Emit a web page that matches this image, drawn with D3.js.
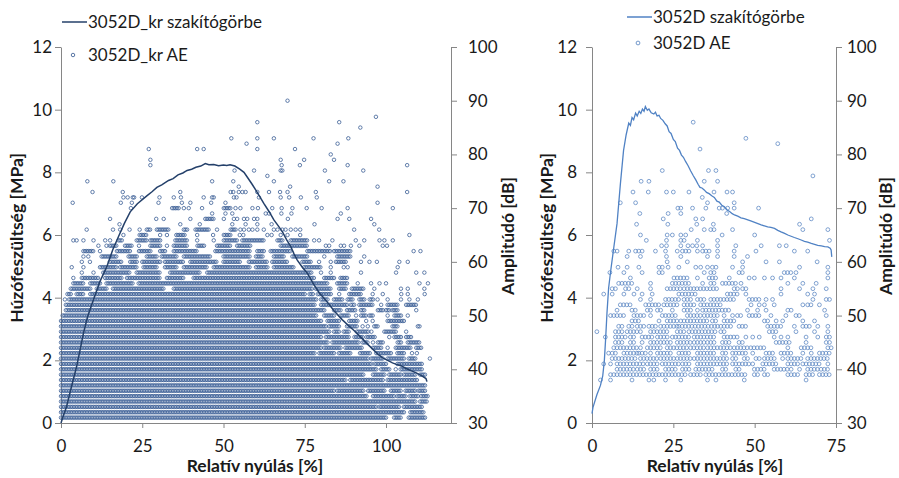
<!DOCTYPE html>
<html><head><meta charset="utf-8">
<script src="https://cdn.jsdelivr.net/npm/d3@7"></script>
<style>body{margin:0;background:#fff} svg text{font-family:Lato,"Open Sans",sans-serif;fill:#1a1a1a}</style>
</head><body><svg id="c" width="899" height="478"></svg>
<script>
// ---------- data ----------
const stressTicks=[0,2,4,6,8,10,12];
const ampTicks=[30,40,50,60,70,80,90,100];
const leftXTicks=[0,25,50,75,100];
const rightXTicks=[0,25,50,75];
const leftNames=["3052D_kr szakítógörbe","3052D_kr AE"];
const rightNames=["3052D szakítógörbe","3052D AE"];
const xTitle="Relatív nyúlás [%]";
const yTitle="Húzófeszültség [MPa]";
const y2Title="Amplitúdó [dB]";

// tensile curves [strain %, stress MPa]
const leftCurve=[[0,0],[0.7,0.22],[1.7,0.52],[3.2,1.15],[4.8,1.8],[6.0,2.4],[6.9,2.86],[8.2,3.4],[10.2,4.0],[12,4.52],[14.1,4.99],[15.9,5.52],[17.7,5.95],[19.5,6.37],[21.3,6.74],[23.5,7.0],[26.4,7.25],[28,7.38],[29.5,7.52],[31,7.6],[33.1,7.74],[34.5,7.8],[36,7.92],[37.5,7.98],[38.8,8.06],[40.2,8.1],[41.5,8.16],[43,8.2],[44.4,8.28],[45.5,8.24],[47,8.25],[48.5,8.21],[50,8.23],[51,8.22],[52,8.24],[53.5,8.2],[55,8.1],[56.3,8.0],[57.5,7.82],[58.8,7.62],[59.9,7.44],[61.2,7.22],[62.4,7.01],[64,6.75],[65.5,6.48],[66.8,6.3],[68.1,6.11],[69.4,5.85],[70.7,5.63],[71.7,5.4],[72.7,5.2],[74.2,4.98],[75.8,4.78],[77.9,4.4],[79.5,4.15],[80.8,4.0],[82,3.85],[84,3.58],[86.5,3.3],[89.2,3.04],[90.5,2.92],[91.8,2.78],[93,2.66],[94.4,2.51],[96,2.35],[97.5,2.2],[99,2.08],[100.5,2.0],[102,1.92],[103.2,1.87],[104.6,1.83],[106.2,1.74],[107.7,1.67],[109.3,1.6],[110.8,1.52],[112.3,1.42],[112.6,1.32]];
const rightCurve=[[0,0.3],[0.3,0.5],[1.5,0.9],[2.6,1.2],[3.3,1.5],[3.8,2.0],[4.2,2.7],[4.6,3.5],[5.1,4.3],[5.8,4.9],[6.7,5.6],[7.7,6.37],[8.7,7.6],[9.7,8.7],[10.5,9.2],[11.3,9.57],[11.8,9.5],[12.3,9.75],[12.8,9.68],[13.4,9.89],[13.9,9.8],[14.5,9.95],[15,9.88],[15.5,10.02],[16,9.95],[16.4,10.1],[17,9.98],[17.5,10.02],[18.2,9.9],[19,9.86],[19.5,9.92],[20,9.8],[20.6,9.82],[21.1,9.72],[21.8,9.66],[22.5,9.55],[23.1,9.48],[23.7,9.3],[24.3,9.24],[25,9.05],[25.6,8.98],[26.3,8.77],[26.9,8.7],[27.5,8.55],[28.1,8.48],[28.8,8.34],[29.5,8.22],[30.3,8.05],[31.1,7.9],[31.9,7.76],[32.6,7.62],[33.2,7.52],[33.8,7.5],[34.5,7.44],[35.2,7.36],[36,7.32],[36.8,7.25],[37.6,7.2],[38.4,7.08],[39.1,7.05],[39.9,6.95],[40.7,6.9],[41.5,6.8],[42.3,6.75],[43.1,6.68],[43.8,6.64],[44.8,6.6],[45.8,6.55],[46.8,6.52],[47.9,6.48],[49,6.44],[50,6.4],[51,6.36],[52,6.32],[53,6.29],[54,6.26],[55,6.24],[56.1,6.21],[57.1,6.15],[58.1,6.1],[59.2,6.05],[60.2,6.0],[61.2,5.96],[62.2,5.92],[63.3,5.88],[64.3,5.84],[65.3,5.8],[66.3,5.77],[67.4,5.73],[68.4,5.7],[69.4,5.67],[70.5,5.65],[71.5,5.63],[72.5,5.62],[73.2,5.58],[73.5,5.52],[73.7,5.3]];

// AE hits: "dB:strain positions" (a-b = contiguous run of markers)
const leftAE=[
"31:0-100,102.5-104.5,107-112","32:0-105.5,107.5-111.5","33:0-97,98-104,105.5-111","34:0-109,110.5-112.5",
"35:0-94,96-102.5,103.5-106,107.3-109.8,110.8-113","36:0-84,85-93,94.5-99.5,101.5-104.5,106-109,110-112","37:0-112",
"38:0-87.5,89-99,100.5-109.5","39:0-93,96-99.5,101-104.5,105.5-109,110.5-112","40:0-97,98.5-101,103,104.5-111",
"41:0-95.5,96.5-100,103.5-111","42:0-94.5,95.5-99,100.5-105.5,107-109,113.5",
"43:0-78,79.5-84,85.5-89,92-95,97-101.5,103.5-105.5,108,109.5","44:0-80,81-86,87.5-92.5,96-98.5,100.5,103-107.5,109.3-110.8",
"45:0-82,83.5-91.5,92.8-94.4,96,97.5-99,103.6-104.7,106.7-110.3","46:0-80,81.5-88.5,90.3-92.8,94-96.5,101,102.6-104.7,106.2-107.7",
"47:0-82.5,84-85.5,87-88.5,91-93,93.5-94.5,95.5,99.5-103,106.2","48:0-81.5,82.5-85.5,88-91,92.8,94.4,96.4-97.5,102-103.6,109.8-110.3",
"49:0-80,82-85.5,88.7-91.3,93.9,95.9,100.5-105.5","50:0.5-78.5,81-84,86-88.5,90.8,92.3-93.9,94.9-95.9,100.5,102.6-104.7,106.7",
"51:1.5-81,84-86,88-90.8,92.3-93.3,97.5-99,100-101,102-103.6,109.3","52:1.5-78,80-88,89.2-90.3,91.8-95.9,98.5,100.5-103.6,106.2-109.3",
"53:1.2,2.5-78.5,80-82,84-86.7,88.2-89.8,91.8-93.3,95-96,97.4,100.5,104.6,107.2,109.8",
"54:2-3,4.8-7,9-75.3,76.5-77.5,79-83,85.6,88.7-92.3,95.9,99,104.7,106.7,111.9",
"55:3-9,11-14,16-31.5,34.7-77.4,78.4-83,85.6-88,89.5-93.3,96.4,104.6,106.7,111.8",
"56:3.8-7,9-12,14-22.3,23.9-82,85-88.2,91.3,95.4,98,100,110.3,112.9",
"57:3.8,6.4-11.5,13.6-18.7,20.3-30.5,32.6-37.8,40.8-78,81-84,86-88.2",
"58:6.4,10,13-21.3,23.3-30.5,33.6-43,45-77,80,83,92.3,103.1,109.3,111.8",
"59:3.3,6.9,12-17.2,18.2-23.3,25.4-29.5,32-35.7,37.8-45,47-58.3,60-63.5,65.5-71.7,74.8-80,83,87,88.2,103.6",
"60:6.4,8.9,15-18.7,21.3-23.3,25-30.5,32-37.8,39.8-48,50-55.2,57.8-63.5,65-69.6,74.3-77,79.4,83,84.6-87.7,92.3,94.9,97.2,104.1,106.7",
"61:6.9,8.4,12.5-17.2,20.8-23.3,26.4-29.5,31-35.7,37.8-46,50-58.3,60-62.4,65.5-68.6,71.2-75.8,81,85-89,93.3",
"62:6.9-10,12,17.2-21.3,24-27.5,30.5-32,34.7-42,47.5-58.3,60.4-62.4,64.5-70.7,75.8-83,84-89,108.5,110.6",
"63:11.5,14,15-17.2,19.7-21.8,24,27.5-30.5,32.6,34.7-38.8,42-44,48-52.2,54.2-58.3,67.6-75.8,81.5,82.5,86.1,87.1,89.2,91.8,99,100.3",
"64:3.8,4.8,6.9,10,13.6,15.1,17.7-18.7,23.3-26.4,27.5-30.5,35.2-38.8,41.9,47,50.1-54.2,55.8-62.4,66.6-68.1,70.7-75.8,77.9,79.4,83.5,90.7,93.3,98,99.5,102.1",
"65:19.2,24.2-26.4,30.5,32.6,35.5-38.3,41.9,46.8,50.1-52.2,55,56.1,63.5,64.8,67.6,69.7,73.6,107.2",
"66:7.9,16,18.2,21.1,24.2,26.4-27.5,29.5-33.1,37.8-38.8,41.4-45.5,48,52.2-53.7,55.2,56.3,57.8,58.9,60.4,62.4,65.5,66.6,68.1,69.1,70.7,72.2,73.6,90.2,97.9",
"67:18,36.7,42.7,52.7,56.8,60.4,64.8,78,96.4",
"68:15.1,29.3,31.6,39.8,44.4-47,50.1,53.2,54.2,56.3,57.3,59.4,60.4,69.8,85.1,88.7,95.4",
"69:46.5,50.6,52.7,63,64,67.8,70.9,86.1",
"70:21.5,34.2-36.2,37.8,39.3,43.4,50.1-52.2,53.7,55.2,58.9,60.6,65,67.9,71.2,75.6,80.2,88.2,102.1",
"71:3.6,18.4,21.8,30,37.2,39.8,46.2,50.6,97.4",
"72:19.2,20.5,22.1,22.5,24.9,30.3,34.7,36.9,43.9,46.5,47,53.2,54,60.9,67.6,70.2,73.8,78.7",
"73:9.7,19,36.7,52.2,53,54.7,55.8,56.8,60.4,64,67.4,69.7,78.4,106.5",
"74:54.7,70.5,97.4","75:8.1,16.1,46.5,53,65.5,82.5,86.9","76:63.5","77:53.4,59.4,67.6,68.1,81.2,93",
"78:27.5,67.9,73.5,88.2,106.5","79:27.5,67.6,74.8,84","80:83","81:27,41.9,43.9,60.4,72","82:57.1,85.1",
"83:52.4,60.4,65.5,77.7,88.4","85:92.1","86:60.4,85.6","87:96.9","90:69.7"];

const rightAE=[
"38:2.6,5.7,12.3,17.5,19,22.6,27.3,35.5,38.1,46.8,65.8",
"39:5.7-20.1,20.6-29.3,30.3-33.4,35-47.8,49.9-51.4,53-54,60.2-63.3,65.8-67.9,69.9-73",
"40:7.7-12.9,13.9-16.5,18-20.1,22.6-26.2,27.8-30.3,31.9-37.6,40.1-41.6,44.2-45.8,49.9-53,56-60.2,61.2,63.8,66.3-69.4,70.4-72.5",
"41:3.6,5.7,7.7-16.5,17-20.1,21.6-26.7,27.8-30.3,32.4-42.2,43.2-48.3,49.4,52.5-57.1,60.2-63.3,64.8-70.4,72.5",
"42:6.2-13.4,14.9-20.1,21.1-25.2,26.2-30.3,31.4-42.2,43.2-44.7,46.8-47.8,50.4-51.4,53-56.6,58.6,60.2-64.3,66.3-73",
"43:5.1,6.2-7.7,9.8-13.9,14.4-17,18,20.1-24.7,26.7-30.3,32.4-37.5,40.1-41.1,43.2-47.8,49.4,53.5-55.5,58.1-61.7,64.8,67.4,69.9-73",
"44:6.7-13.9,14.9,17-21.6,23.1-29.3,30.3-34.5,35.5-43.2,43.7-47.8,48.8-53.5,60.2,64.3-67.9,72.5-73.5",
"45:7.2-9.8,11.8-12.9,15.4,18-20.1,21.1-24.2,26.2-30.3,31.4-34.5,35.5-38,40.1-42.2,45.2-46.3,56.6-60.7,65.8,72-73",
"46:4.1,7.2-10.3,11.8-13.4,15.4-18.5,20.1-23.7,24.7-30.3,31.4-37.5,40.6-44.7,47.3,49.4,51.4,56,58.1,60.2,65.8,69.4,72-73",
"47:1.5,7.2-9.8,10.8-13.9,14.9,18-23.1,26.2-28.3,29.8-38,39.6-41.1,54.5-56.6,62.7,68.4,72.5",
"48:8.2-9.3,11.3-12.3,13.9-15.9,17.5-19.5,21.1-26.2,26.7-38,38.6-42.7,45.2-47.8,54-58.1,62.2,64.8-67.4,69.4,72.5",
"49:12.3-14.4,20.6,23.1-26.2,27.3-35.5,37-38,40.6-43.7,53-54.5,56.6,58.6,64.8,68.4",
"50:5.7-9.8,12.9-15.9,18,21.6-26.2,29.3-33.4,34.5-38.6,40.6-41.1,43.2,44.7-46.3,48.3-51.9,55,59.6,62.7-64.3,72",
"51:7.7,12.3-13.9,17-18,20.1-21.1,24.7,28.3-30.3,32.4,34-42.2,47.8,50.9,53.5-54,60.2-61.2,71.5",
"52:8.7-11.8,16.5-20.6,22.1-26.7,28.3-31.4,33.4-40.1,48.9,51.4,53,56,64.8,66.3-67.4,69.9",
"53:14.9,18,22.6-27.3,28.3-30.9,32.4-34.5,36.5-44.2,48.3-51.9,53.5,55.5,67.9,72-73",
"54:3.6,6.2,9.8,12.9,15.4,18.5,26.7-31.9,41.6-44.7,47.3,58.1,66.3,68.4",
"55:6.2-7.2,10.3-11.3,13.9,18,23.1-27.3,28.3-39.1,43.7-44.7,46.3-47.8,58.1,63.8,67.9,72",
"56:8.2-12.9,18,24.7-30.3,34,36.5-38,40.1-44.2,45.8,60.2,64.8,68.9",
"57:11.8,25.2-29.3,32.4,36-38,42.2,48.3,49.9-50.4,53,55.5,58.1,62.2,72.5",
"58:5.5,9.8,15.4,20.6-22.1,34.5,36.5-38,45.2-46.8,59.1-61.7,62.7,72.5",
"59:8,10.8,14.4,20.6,21.6,23.4,26.7,31.9,33.4,35.5,37,38.1,43.2,46.3,63.8,72.5",
"60:23.1,29.3,46.3,53.5,57.6,69.2","61:10.8,14.9,22.9,27.3,35.5,38.6,43.7,47.8",
"62:6.7-7.7,11.3,13.4-15.9,19.5,22.6,26.2,27.8-30.3,32.4,34-36,38.6,43.7,50.4,62.2,66.3",
"63:21.4,22.9,27.3,29.5,30.9,32.2,34,38.6,44.2,52,57.6,59.7","64:16.7,22.9,27.3-29.1,32.4,38.6,73",
"65:14.9,23.1,24.7,27.3,28.8,40,50","66:30.5,34.5,36.5-38,43.2,64.8,72.5","67:13.7,23.3,32.2,37.3,63.8",
"68:21.9,31.9,34,67.4","69:14.7,23.4,27.3,41.4","70:26.4,27.3,30.9,35,39.1,40.1,41.7,43.7,51.2",
"71:8.7,13.4,35.5,43.7","72:33.9","73:12.6,17.3,22.9,25,29.8,37.5,41.5,43.2","75:15.1,17.5,34.5,38.6",
"76:67.9","77:21.6,35.8,38.1","81:33.2","82:57.1","83:47.3","86:31.1"];

// ---------- drawing ----------
function expand(rows, step){
  const pts=[];
  rows.forEach(r=>{
    const [db,segs]=r.split(":");
    segs.split(",").forEach(s=>{
      if(s.includes("-")){const [a,b]=s.split("-").map(Number);for(let x=a;x<=b+1e-9;x+=step)pts.push([x,+db]);}
      else pts.push([+s,+db]);
    });
  });
  return pts;
}

const svg=d3.select("#c");
const AX="#868686";

function panel(o){
  const x=d3.scaleLinear().domain(o.xDom).range([o.x0,o.x1]);
  const y=d3.scaleLinear().domain([0,12]).range([423,47]);
  const y2=d3.scaleLinear().domain([30,100]).range([423,47]);
  const g=svg.append("g");
  const style=a=>{a.select(".domain").attr("stroke",AX);a.selectAll(".tick line").attr("stroke",AX);
    a.selectAll("text").attr("font-size",17).attr("font-family","Lato").attr("fill","#1a1a1a");a.attr("font-family",null);};
  g.append("g").attr("transform",`translate(${o.x0},0)`)
    .call(d3.axisLeft(y).tickValues(stressTicks).tickSize(6).tickSizeOuter(0).tickPadding(o.padL)).call(style);
  g.append("g").attr("transform",`translate(${o.x1},0)`)
    .call(d3.axisRight(y2).tickValues(ampTicks).tickSize(6).tickSizeOuter(0).tickPadding(o.padR)).call(style);
  g.append("g").attr("transform",`translate(0,423)`)
    .call(d3.axisBottom(x).tickValues(o.xTicks).tickSize(5).tickSizeOuter(0).tickPadding(12)).call(style);

  g.append("g").selectAll("circle").data(expand(o.ae,o.step)).join("circle")
    .attr("cx",d=>x(d[0])).attr("cy",d=>y2(d[1])).attr("r",o.r)
    .attr("fill","none").attr("stroke",o.mColor).attr("stroke-width",0.85).attr("stroke-opacity",o.mOp);
  g.append("path").datum(o.curve).attr("fill","none").attr("stroke",o.lColor).attr("stroke-width",o.lw)
    .attr("d",d3.line().x(d=>x(d[0])).y(d=>y(d[1])));

  // titles
  g.append("text").attr("x",o.xtX).attr("y",472).attr("text-anchor","middle").attr("font-weight","bold").attr("font-size",17.5).text(xTitle);
  g.append("text").attr("transform",`translate(${o.ytX},238) rotate(-90)`).attr("text-anchor","middle").attr("font-weight","bold").attr("font-size",17.5).text(yTitle);
  g.append("text").attr("transform",`translate(${o.y2tX},236) rotate(-90)`).attr("text-anchor","middle").attr("font-weight","bold").attr("font-size",17.5).text(y2Title);

  // legend
  const L=o.leg;
  g.append("line").attr("x1",L.x0).attr("x2",L.x0+25).attr("y1",L.y1).attr("y2",L.y1).attr("stroke",o.lColor).attr("stroke-width",1.5);
  g.append("text").attr("x",L.x0+26).attr("y",L.y1).attr("dy","0.35em").attr("font-size",17).text(o.names[0]);
  g.append("circle").attr("cx",L.x0+11).attr("cy",L.y2).attr("r",o.r).attr("fill","none").attr("stroke",o.mColor).attr("stroke-width",0.85);
  g.append("text").attr("x",L.x0+26).attr("y",L.y2).attr("dy","0.35em").attr("font-size",17).text(o.names[1]);
}

panel({xDom:[0,120],x0:61,x1:451,xTicks:leftXTicks,padL:3,padR:11,ae:leftAE,step:0.5,r:1.75,curve:leftCurve,
  mColor:"#3d6096",mOp:0.95,lColor:"#24406a",lw:1.5,xtX:255,ytX:23,y2tX:514,names:leftNames,leg:{x0:62,y1:22,y2:55}});
panel({xDom:[0,75],x0:592,x1:836,xTicks:rightXTicks,padL:9,padR:5,ae:rightAE,step:1.0,r:1.9,curve:rightCurve,
  mColor:"#5b86c2",mOp:0.9,lColor:"#5082c4",lw:1.3,xtX:715,ytX:553,y2tX:892,names:rightNames,leg:{x0:627,y1:17,y2:43}});
</script></body></html>
